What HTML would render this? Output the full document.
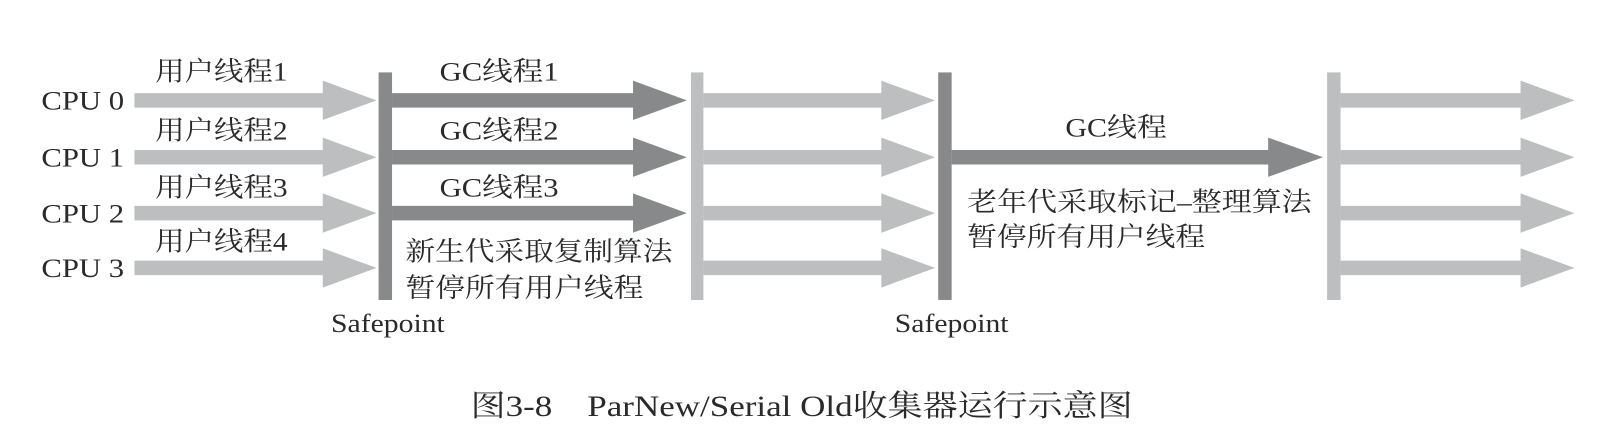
<!DOCTYPE html>
<html><head><meta charset="utf-8"><style>
html,body{margin:0;padding:0;background:#fff;}
svg text{font-family:"Liberation Serif","Noto Serif CJK SC",serif;fill:#2a2a2a;}
</style></head><body>
<svg width="1622" height="435" viewBox="0 0 1622 435" xmlns="http://www.w3.org/2000/svg">
<g transform="scale(1.0344)">
<g fill="#bdbec0">
<polygon points="130,90 312,90 312,78 364,97 312,116 312,104 130,104"/>
<polygon points="130,145 312,145 312,133 364,152 312,171 312,159 130,159"/>
<polygon points="130,199 312,199 312,187 364,206 312,225 312,213 130,213"/>
<polygon points="130,252 312,252 312,240 364,259 312,278 312,266 130,266"/>
</g>
<rect x="366" y="70" width="13" height="220" fill="#88898b"/>
<g fill="#88898b">
<polygon points="379,90 612,90 612,78 664,97 612,116 612,104 379,104"/>
<polygon points="379,145 612,145 612,133 664,152 612,171 612,159 379,159"/>
<polygon points="379,199 612,199 612,187 664,206 612,225 612,213 379,213"/>
</g>
<rect x="668" y="70" width="12" height="220" fill="#bdbec0"/>
<g fill="#bdbec0">
<polygon points="680,90 852,90 852,78 904,97 852,116 852,104 680,104"/>
<polygon points="680,145 852,145 852,133 904,152 852,171 852,159 680,159"/>
<polygon points="680,199 852,199 852,187 904,206 852,225 852,213 680,213"/>
<polygon points="680,252 852,252 852,240 904,259 852,278 852,266 680,266"/>
</g>
<rect x="907" y="70" width="13" height="220" fill="#88898b"/>
<polygon fill="#88898b" points="920,145 1226,145 1226,133 1279,152 1226,171 1226,159 920,159"/>
<rect x="1283" y="70" width="13" height="220" fill="#bdbec0"/>
<g fill="#bdbec0">
<polygon points="1296,90 1470,90 1470,78 1522,97 1470,116 1470,104 1296,104"/>
<polygon points="1296,145 1470,145 1470,133 1522,152 1470,171 1470,159 1296,159"/>
<polygon points="1296,199 1470,199 1470,187 1522,206 1470,225 1470,213 1296,213"/>
<polygon points="1296,252 1470,252 1470,240 1522,259 1470,278 1470,266 1296,266"/>
</g>
<g font-size="26" lengthAdjust="spacingAndGlyphs">
<text x="40" y="106" textLength="80" lengthAdjust="spacingAndGlyphs">CPU 0</text>
<text x="40" y="161" textLength="80" lengthAdjust="spacingAndGlyphs">CPU 1</text>
<text x="40" y="215" textLength="80" lengthAdjust="spacingAndGlyphs">CPU 2</text>
<text x="40" y="268" textLength="80" lengthAdjust="spacingAndGlyphs">CPU 3</text>
<text x="150" y="78" textLength="128" lengthAdjust="spacingAndGlyphs">用户线程1</text>
<text x="150" y="135" textLength="128" lengthAdjust="spacingAndGlyphs">用户线程2</text>
<text x="150" y="190" textLength="128" lengthAdjust="spacingAndGlyphs">用户线程3</text>
<text x="150" y="242" textLength="128" lengthAdjust="spacingAndGlyphs">用户线程4</text>
<text x="425" y="78" textLength="115" lengthAdjust="spacingAndGlyphs">GC线程1</text>
<text x="425" y="135" textLength="115" lengthAdjust="spacingAndGlyphs">GC线程2</text>
<text x="425" y="190" textLength="115" lengthAdjust="spacingAndGlyphs">GC线程3</text>
<text x="392" y="252" textLength="258" lengthAdjust="spacingAndGlyphs">新生代采取复制算法</text>
<text x="392" y="287" textLength="230" lengthAdjust="spacingAndGlyphs">暂停所有用户线程</text>
<text x="320" y="321" textLength="110" lengthAdjust="spacingAndGlyphs">Safepoint</text>
<text x="865" y="321" textLength="110" lengthAdjust="spacingAndGlyphs">Safepoint</text>
<text x="1030" y="132" textLength="98" lengthAdjust="spacingAndGlyphs">GC线程</text>
<text x="935" y="204" textLength="333" lengthAdjust="spacingAndGlyphs">老年代采取标记–整理算法</text>
<text x="935" y="238" textLength="230" lengthAdjust="spacingAndGlyphs">暂停所有用户线程</text>
</g>
<text x="455" y="402" font-size="29" textLength="640" lengthAdjust="spacingAndGlyphs">图3-8　ParNew/Serial Old收集器运行示意图</text>
</g>
</svg>
</body></html>
